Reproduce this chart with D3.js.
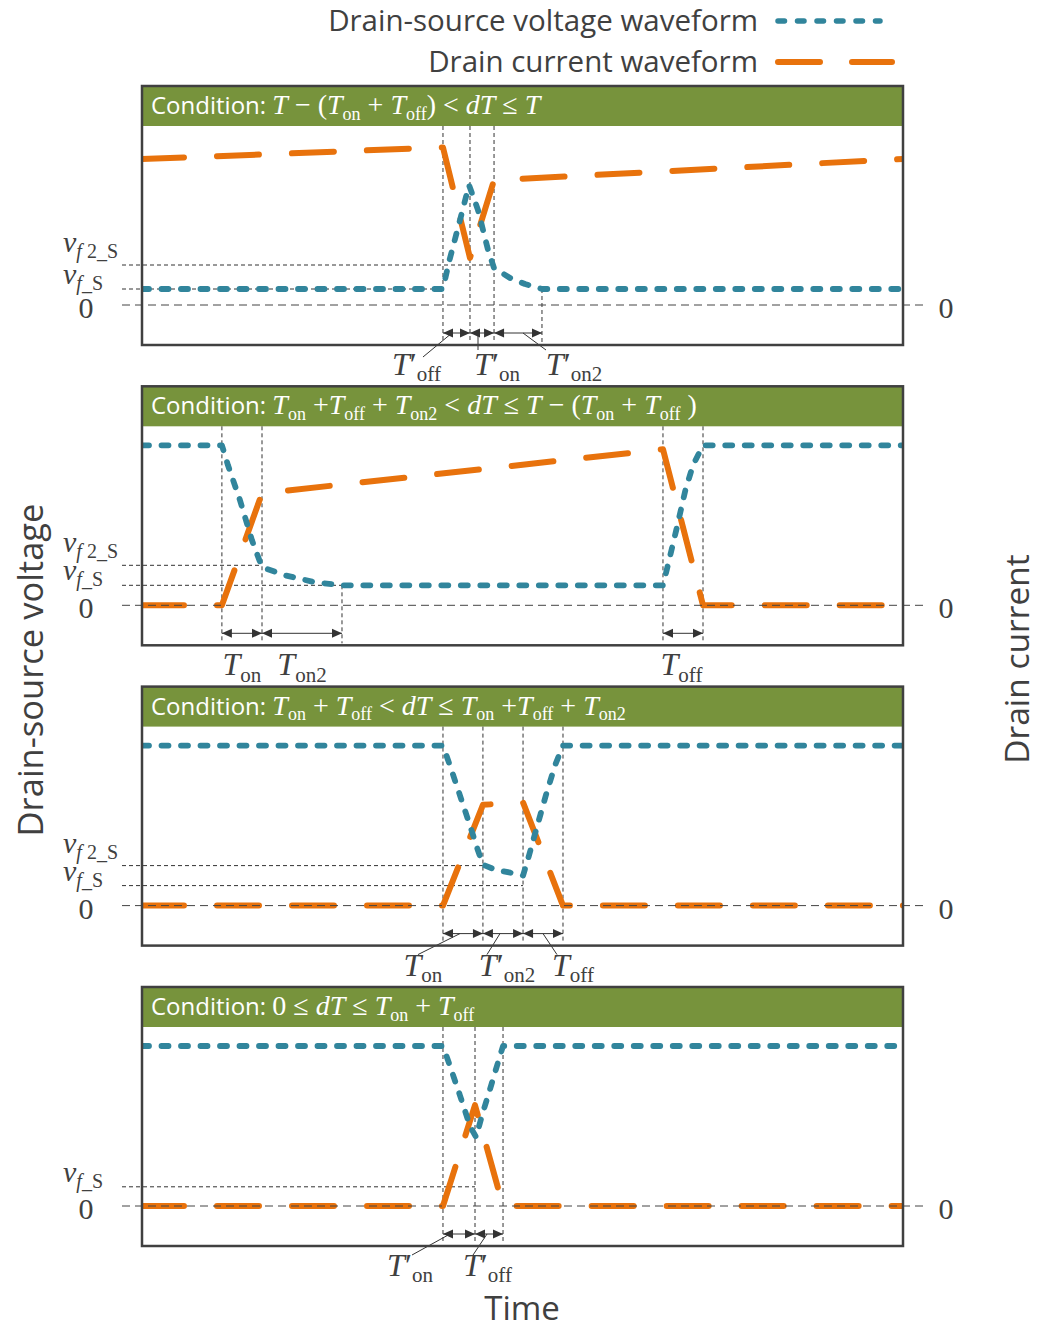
<!DOCTYPE html>
<html>
<head>
<meta charset="utf-8">
<script src="https://cdn.jsdelivr.net/npm/d3@7"></script>
<style>
  body { margin: 0; background: #ffffff; }
  svg { display: block; }
  text { white-space: pre; }
</style>
</head>
<body>
<svg id="chart" width="1040" height="1329"></svg>
<script>
// ---------------- data ----------------
// Normalised time (0..100 per switching window) and level (0..100, 100 = full off-state voltage)
const legendLabels = ["Drain-source voltage waveform", "Drain current waveform"];
const leftAxisTitle = "Drain-source voltage";
const rightAxisTitle = "Drain current";
const bottomAxisTitle = "Time";

const conditionTitles = [
  "T − (T_{on} + T_{off}) < dT ≤ T",
  "T_{on} +T_{off} + T_{on2} < dT ≤ T − (T_{on} + T_{off} )",
  "T_{on} + T_{off} < dT ≤ T_{on} +T_{off} + T_{on2}",
  "0 ≤ dT ≤ T_{on} + T_{off}"
];

// drain-source voltage waveforms [time, level]
const voltage1 = [[0,10],[39.55,10],[40.34,26.9],[41.79,53.1],[42.97,75],[44.15,59.4],[45.47,34.4],[46.26,23.1],[48.36,16.9],[50.33,13.1],[52.56,10],[100,10]];
const voltage2 = [[0,100],[10.5,100],[11.3,87.5],[12.88,65.6],[14.45,40.6],[15.77,23.75],[18.8,18.75],[22.7,14.4],[26.28,12.5],[68.46,12.5],[69.1,25],[70.2,46.9],[71.4,71.9],[72.4,87.5],[73.72,100],[100,100]];
const voltage3 = [[0,100],[39.55,100],[40.47,87.5],[41.79,68.75],[43.1,50],[44.15,34.4],[44.8,25.6],[46.4,22.5],[48.4,20.6],[50.07,18.75],[50.7,28.75],[51.8,47.5],[53.1,69.4],[54.3,88],[55.32,100],[100,100]];
const voltage4 = [[0,100],[39.55,100],[40.47,87.5],[41.79,69],[43.1,50],[43.9,43],[44.7,57],[45.7,72.5],[46.8,90],[47.44,100],[100,100]];

// drain current waveforms [time, level]
const current1 = [[0,91.2],[39.55,98.5],[43.1,29.4],[46.26,78],[100,91.3]];
const current2 = [[0,0],[10.5,0],[15.77,70],[68.46,97.5],[73.72,0],[100,0]];
const current3 = [[0,0],[39.55,0],[44.8,63],[50.07,64.4],[55.32,0],[100,0]];
const current4 = [[0,0],[39.55,0],[43.76,63],[47.44,0],[100,0]];

// forward-voltage levels and where their guide lines stop
const vfLevels  = [10, 12.5, 12.5, 12];
const vfGuideEnd = [39.55, 26.28, 50.07, 43.76];
const vf2Levels = [25, 25, 25, null];
const vf2GuideEnd = [46.26, 15.77, 44.8, null];

// switching instants (full-height markers) and settling instants (marker from v_f level down)
const edges1 = [39.55, 43.1, 46.26];
const edges2 = [10.5, 15.77, 68.46, 73.72];
const edges3 = [39.55, 44.8, 50.07, 55.32];
const edges4 = [39.55, 43.76, 47.44];
const settle1 = [52.56];
const settle2 = [26.28];
const settle3 = [];
const settle4 = [];

// interval annotations [start, end, label]
const intervals1 = [[39.55, 43.1, "T′_{off}"], [43.1, 46.26, "T′_{on}"], [46.26, 52.56, "T′_{on2}"]];
const intervals2 = [[10.5, 15.77, "T_{on}"], [15.77, 26.28, "T_{on2}"], [68.46, 73.72, "T_{off}"]];
const intervals3 = [[39.55, 44.8, "T_{on}"], [44.8, 50.07, "T′_{on2}"], [50.07, 55.32, "T_{off}"]];
const intervals4 = [[39.55, 43.76, "T′_{on}"], [43.76, 47.44, "T′_{off}"]];

const levelLabels = ["v_{*f* 2_S}", "v_{*f*_S}", "0"];

// ---------------- drawing ----------------
const C_BLUE = "#31859C", C_ORANGE = "#E8720C", C_GREEN = "#77933C", C_INK = "#404040";
const SANS = "'Open Sans', 'Noto Sans', sans-serif";
const SERIF = "'Liberation Serif', 'Times New Roman', serif";

const svg = d3.select("#chart");
const plotLeft = 142, plotRight = 903;
const panelH = 259, headerH = 40, zeroOffset = 219;
const panelTops = [86, 386.3, 686.6, 987];

const x = d3.scaleLinear().domain([0, 100]).range([plotLeft, plotRight]);

const voltages = [voltage1, voltage2, voltage3, voltage4];
const currents = [current1, current2, current3, current4];
const edges = [edges1, edges2, edges3, edges4];
const settles = [settle1, settle2, settle3, settle4];
const intervals = [intervals1, intervals2, intervals3, intervals4];

// label placement around each interval arrow (pixel offsets from interval midpoint)
const labelLayout = [
  [{dx:-40, lead:[-4.5,-33.5,24]}, {dx:15, lead:[-4,-4,17]}, {dx:56, lead:[5,28,17]}],
  [{dx:0}, {dx:0}, {dx:-1.5}],
  [{dx:-40, lead:[-3,-45,21]}, {dx:4, lead:[-3,-16,21]}, {dx:30, lead:[0,14,21]}],
  [{dx:-49, lead:[-9,-47,21]}, {dx:-1.5, lead:[-2,-16,21]}]
];

// tiny math markup: letters italic, _{..} subscript, *..* italic inside subscript
function parseMath(s) {
  const out = [];
  let i = 0;
  while (i < s.length) {
    if (s[i] === "_" && s[i + 1] === "{") {
      const j = s.indexOf("}", i);
      s.slice(i + 2, j).split("*").forEach((part, k) => {
        if (part) out.push({ text: part, sub: true, it: k % 2 === 1 });
      });
      i = j + 1;
      continue;
    }
    const ch = s[i];
    const it = /[A-Za-z]/.test(ch);
    const last = out[out.length - 1];
    if (last && !last.sub && last.it === it) last.text += ch;
    else out.push({ text: ch, sub: false, it });
    i++;
  }
  return out;
}

function appendMath(textSel, str, size, subSize, color) {
  let inSub = false;
  const shift = size * 0.2;
  parseMath(str).forEach(seg => {
    const t = textSel.append("tspan")
      .attr("font-family", SERIF)
      .attr("font-style", seg.it ? "italic" : "normal")
      .attr("font-size", seg.sub ? subSize : size)
      .attr("fill", color)
      .text(seg.text);
    if (seg.sub && !inSub) t.attr("dy", shift);
    if (!seg.sub && inSub) t.attr("dy", -shift);
    inSub = seg.sub;
  });
  return textSel;
}

const blueDash = "7,12.5";
const orangeDash = "42,33";

// ---- legend ----
const legendY = [21, 62];
legendLabels.forEach((lab, i) => {
  svg.append("text")
    .attr("x", 758).attr("y", legendY[i] + 10)
    .attr("text-anchor", "end")
    .attr("font-family", SANS).attr("font-size", 29.5)
    .attr("fill", C_INK)
    .text(lab);
});
svg.append("line").attr("x1", 778).attr("x2", 880).attr("y1", legendY[0]).attr("y2", legendY[0])
  .attr("stroke", C_BLUE).attr("stroke-width", 5.5).attr("stroke-linecap", "round")
  .attr("stroke-dasharray", "6.5,13");
svg.append("line").attr("x1", 778).attr("x2", 892).attr("y1", legendY[1]).attr("y2", legendY[1])
  .attr("stroke", C_ORANGE).attr("stroke-width", 6).attr("stroke-linecap", "round")
  .attr("stroke-dasharray", "42,32");

// ---- panels ----
panelTops.forEach((top, p) => {
  const zeroY = top + zeroOffset;
  const y = d3.scaleLinear().domain([0, 100]).range([zeroY, zeroY - 160]);
  const g = svg.append("g");
  const clipId = "clip" + p;
  svg.append("clipPath").attr("id", clipId)
    .append("rect").attr("x", plotLeft).attr("y", top + headerH).attr("width", plotRight - plotLeft).attr("height", panelH - headerH);

  g.append("rect").attr("x", plotLeft).attr("y", top).attr("width", plotRight - plotLeft).attr("height", panelH)
    .attr("fill", "#fff");
  g.append("rect").attr("x", plotLeft).attr("y", top).attr("width", plotRight - plotLeft).attr("height", headerH)
    .attr("fill", C_GREEN);

  // header condition text
  const ht = g.append("text").attr("x", plotLeft + 9).attr("y", top + 28);
  ht.append("tspan").attr("font-family", SANS).attr("font-size", 24).attr("fill", "#fff").text("Condition: ");
  appendMath(ht, conditionTitles[p], 28, 18, "#fff");

  const guide = g.append("g").attr("stroke", "#333").attr("stroke-width", 1).attr("fill", "none");
  const arrowY = top + 247;

  // switching instants
  edges[p].forEach(t => {
    guide.append("line").attr("x1", x(t)).attr("x2", x(t)).attr("y1", top + headerH).attr("y2", top + panelH - 2)
      .attr("stroke-dasharray", "4,3");
  });
  settles[p].forEach(t => {
    guide.append("line").attr("x1", x(t)).attr("x2", x(t)).attr("y1", y(vfLevels[p])).attr("y2", top + panelH - 2)
      .attr("stroke-dasharray", "4,3");
  });
  // forward-voltage guides
  guide.append("line").attr("x1", 122).attr("x2", x(vfGuideEnd[p])).attr("y1", y(vfLevels[p])).attr("y2", y(vfLevels[p]))
    .attr("stroke-dasharray", "4,3");
  if (vf2Levels[p] != null) {
    guide.append("line").attr("x1", 122).attr("x2", x(vf2GuideEnd[p])).attr("y1", y(vf2Levels[p])).attr("y2", y(vf2Levels[p]))
      .attr("stroke-dasharray", "4,3");
  }

  // waveforms
  const line = d3.line().x(d => x(d[0])).y(d => y(d[1])).curve(d3.curveLinear);
  const wg = g.append("g").attr("clip-path", `url(#${clipId})`);
  wg.append("path").attr("d", line(currents[p])).attr("fill", "none")
    .attr("stroke", C_ORANGE).attr("stroke-width", 6).attr("stroke-linecap", "round").attr("stroke-linejoin", "round")
    .attr("stroke-dasharray", orangeDash);
  wg.append("path").attr("d", line(voltages[p])).attr("fill", "none")
    .attr("stroke", C_BLUE).attr("stroke-width", 5.8).attr("stroke-linecap", "round").attr("stroke-linejoin", "round")
    .attr("stroke-dasharray", blueDash);

  // zero reference line
  g.append("line").attr("x1", 122).attr("x2", 925).attr("y1", zeroY).attr("y2", zeroY)
    .attr("stroke", "#444").attr("stroke-width", 1).attr("stroke-dasharray", "8,5");

  // interval arrows and labels
  intervals[p].forEach((iv, k) => {
    const xa = x(iv[0]), xb = x(iv[1]);
    g.append("line").attr("x1", xa).attr("x2", xb).attr("y1", arrowY).attr("y2", arrowY)
      .attr("stroke", "#333").attr("stroke-width", 1);
    const ah = 10, aw = 4.5;
    g.append("path").attr("d", `M${xa},${arrowY} L${xa + ah},${arrowY - aw} L${xa + ah},${arrowY + aw} Z`).attr("fill", "#333");
    g.append("path").attr("d", `M${xb},${arrowY} L${xb - ah},${arrowY - aw} L${xb - ah},${arrowY + aw} Z`).attr("fill", "#333");
    const mid = (xa + xb) / 2;
    const lay = labelLayout[p][k];
    const lt = g.append("text").attr("x", mid + lay.dx).attr("y", top + 289).attr("text-anchor", "middle");
    appendMath(lt, iv[2], 32, 21, C_INK);
    if (lay.lead) {
      g.append("line").attr("x1", mid + lay.lead[0]).attr("y1", arrowY)
        .attr("x2", mid + lay.lead[1]).attr("y2", arrowY + lay.lead[2])
        .attr("stroke", "#333").attr("stroke-width", 1);
    }
  });

  // level labels
  if (vf2Levels[p] != null) {
    appendMath(g.append("text").attr("x", 63).attr("y", y(vf2Levels[p]) - 13), levelLabels[0], 30, 20, C_INK);
  }
  appendMath(g.append("text").attr("x", 63).attr("y", y(vfLevels[p]) - 5), levelLabels[1], 30, 20, C_INK);
  [86, 946].forEach(cx => {
    g.append("text").attr("x", cx).attr("y", zeroY + 13).attr("text-anchor", "middle")
      .attr("font-family", SERIF).attr("font-size", 30).attr("fill", C_INK).text(levelLabels[2]);
  });

  // panel frame
  g.append("rect").attr("x", plotLeft).attr("y", top).attr("width", plotRight - plotLeft).attr("height", panelH)
    .attr("fill", "none").attr("stroke", C_INK).attr("stroke-width", 2.5);
});

// ---- axis titles ----
svg.append("text").attr("transform", "translate(43,670) rotate(-90)").attr("text-anchor", "middle")
  .attr("font-family", SANS).attr("font-size", 34.5).attr("fill", C_INK).text(leftAxisTitle);
svg.append("text").attr("transform", "translate(1029,659) rotate(-90)").attr("text-anchor", "middle")
  .attr("font-family", SANS).attr("font-size", 33.5).attr("fill", C_INK).text(rightAxisTitle);
svg.append("text").attr("x", 522).attr("y", 1320).attr("text-anchor", "middle")
  .attr("font-family", SANS).attr("font-size", 33).attr("fill", C_INK).text(bottomAxisTitle);
</script>
</body>
</html>
